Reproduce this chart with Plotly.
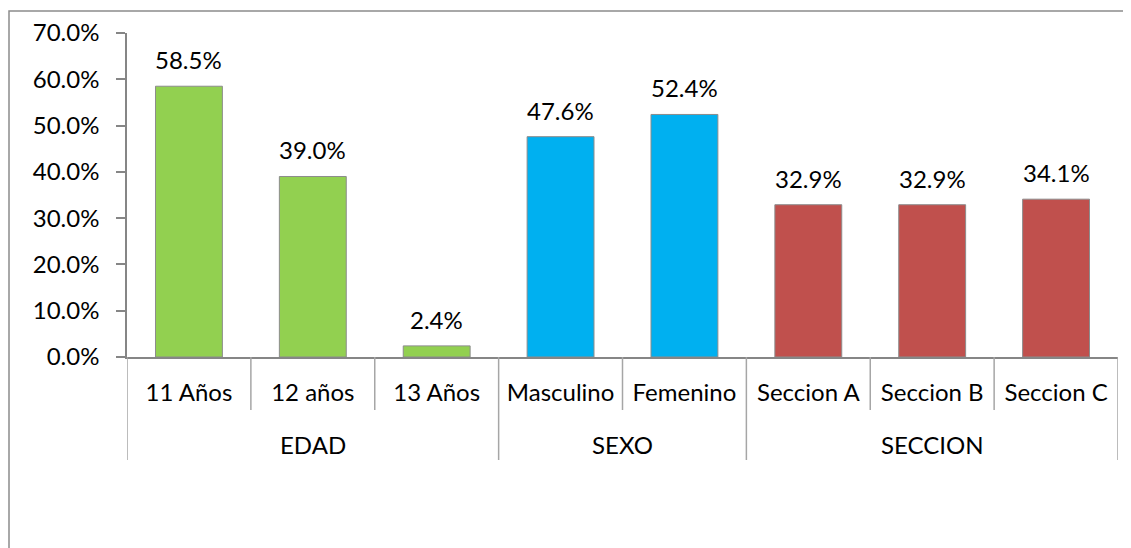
import plotly.graph_objects as go

groups = ["EDAD", "SEXO", "SECCION"]
group_sizes = [3, 2, 3]
categories = ["11 Años", "12 años", "13 Años", "Masculino", "Femenino", "Seccion A", "Seccion B", "Seccion C"]
values = [58.5, 39.0, 2.4, 47.6, 52.4, 32.9, 32.9, 34.1]
colors = ["#92D050", "#92D050", "#92D050", "#00B0F0", "#00B0F0", "#C0504D", "#C0504D", "#C0504D"]
y_ticks = [0, 10, 20, 30, 40, 50, 60, 70]

FONT = "Lato"
FS = 24
GRAY = "#8c8c8c"
SEP = "#a6a6a6"

# page body has an 8px margin, so the figure is drawn 8px in from the window edge
W, H = 1123, 540
L, R, T, B = 119, 13, 25, 191
plot_w = W - L - R
plot_h = H - T - B

fig = go.Figure()
fig.add_trace(go.Bar(
    x=categories,
    y=[v / 100 for v in values],
    marker=dict(color=colors, line=dict(color=GRAY, width=1)),
    width=0.54,
    hoverinfo="x+y",
))

annotations = []
for c, v in zip(categories, values):
    annotations.append(dict(x=c, y=v / 100, xref="x", yref="y", text=f"{v:.1f}%",
                            showarrow=False, yanchor="bottom", yshift=10,
                            font=dict(family=FONT, size=FS, color="#000000")))

shapes = []
bounds = [-0.5]
for g, n in zip(groups, group_sizes):
    start = bounds[-1]
    annotations.append(dict(x=start + n / 2, y=-(445 - 357) / plot_h, xref="x", yref="paper",
                            text=g, showarrow=False, yanchor="middle",
                            font=dict(family=FONT, size=FS, color="#000000")))
    # inner separators between categories of the same group
    for k in range(1, n):
        shapes.append(dict(type="line", xref="x", yref="paper", x0=start + k, x1=start + k,
                           y0=0, y1=-(410 - 357) / plot_h, line=dict(color=SEP, width=1.5)))
    bounds.append(start + n)
for b in bounds:
    shapes.append(dict(type="line", xref="x", yref="paper", x0=b, x1=b, y0=0,
                       y1=-(460 - 357) / plot_h, line=dict(color=SEP, width=1.5)))

shapes.append(dict(type="rect", xref="paper", yref="paper",
                   x0=(1 - L) / plot_w, x1=(W + 10 - L) / plot_w,
                   y0=-(B + 20) / plot_h, y1=1 + (T - 3) / plot_h,
                   line=dict(color=GRAY, width=1.5), fillcolor="rgba(0,0,0,0)", layer="below"))

fig.update_layout(
    width=W, height=H,
    margin=dict(l=L, r=R, t=T, b=B, autoexpand=False),
    paper_bgcolor="white", plot_bgcolor="white",
    showlegend=False,
    font=dict(family=FONT, size=FS, color="#000000"),
    annotations=annotations,
    shapes=shapes,
)
fig.update_yaxes(
    range=[0, 0.70],
    tickvals=[t / 100 for t in y_ticks],
    ticktext=[f"{t:.1f}%" for t in y_ticks],
    showgrid=False, zeroline=False,
    showline=True, linecolor="#868686", linewidth=1.5,
    ticks="outside", ticklen=9, tickcolor="#868686", tickwidth=1.5,
    ticklabelstandoff=12,
    tickfont=dict(family=FONT, size=FS),
)
fig.update_xaxes(
    type="category",
    range=[-0.5, 7.5],
    showgrid=False,
    showline=True, linecolor="#868686", linewidth=1.5,
    ticks="",
    ticklabelstandoff=13,
    tickfont=dict(family=FONT, size=FS),
)

fig.write_html("out.html")
